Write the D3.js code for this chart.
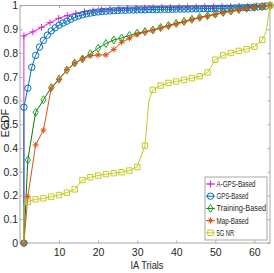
<!DOCTYPE html>
<html>
<head>
<meta charset="utf-8">
<script src="https://d3js.org/d3.v7.min.js"></script>
<style>
  body { margin: 0; background: #fff; }
  text { font-family: "Liberation Sans", Arial, sans-serif; fill: #262626; }
</style>
</head>
<body>
<script>
// ---- data ----
var xTicks = [10, 20, 30, 40, 50, 60];
var yTicks = [0, 0.1, 0.2, 0.3, 0.4, 0.5, 0.6, 0.7, 0.8, 0.9, 1];

var aGpsX = [1, 1, 3.3, 5.5, 7.7, 9.9, 12.1, 14.3, 16.5, 18.7, 20.9, 23.1, 25.3, 27.5, 29.7, 31.9,
             34.1, 36.3, 38.5, 40.7, 42.9, 45.1, 47.3, 49.5, 51.7, 53.9, 56.1, 58.3, 60.5, 62.7, 64];
var aGpsY = [0, 0.872, 0.889, 0.908, 0.928, 0.946, 0.958, 0.967, 0.974, 0.978, 0.982, 0.984, 0.986, 0.988, 0.989, 0.99,
             0.991, 0.992, 0.992, 0.993, 0.994, 0.994, 0.995, 0.995, 0.996, 0.996, 0.997, 0.997, 0.998, 0.999, 1.0];

var gpsX = [1, 1, 2, 3, 4, 5, 6, 7, 8, 9, 10, 11, 12, 13, 14, 15, 16, 17, 18, 19, 20, 21, 22, 23, 24, 25, 26, 27, 28, 29, 30,
            31, 32, 33, 34, 35, 36, 37, 38, 39, 40, 41, 42, 43, 44, 45, 46, 47, 48, 49, 50, 51, 52, 53, 54, 55, 56, 57, 58, 59, 60,
            61, 62, 63, 64];
var gpsY = [0, 0.572, 0.652, 0.74, 0.79, 0.825, 0.853, 0.875, 0.893, 0.906, 0.917, 0.926, 0.934, 0.942, 0.95, 0.956, 0.961,
            0.965, 0.968, 0.971, 0.973, 0.975, 0.976, 0.977, 0.978, 0.979, 0.98, 0.98, 0.981, 0.981, 0.982,
            0.982, 0.982, 0.983, 0.983, 0.983, 0.984, 0.984, 0.984, 0.984, 0.985, 0.985, 0.985, 0.985, 0.986, 0.986, 0.986, 0.987,
            0.987, 0.987, 0.988, 0.988, 0.988, 0.989, 0.989, 0.99, 0.99, 0.991, 0.991, 0.992, 0.993, 0.994, 0.995, 0.997, 1.0];

var evenX = [1, 2, 4, 6, 8, 10, 12, 14, 16, 18, 20, 22, 24, 26, 28, 30, 32, 34, 36, 38, 40, 42, 44, 46, 48, 50, 52, 54, 56, 58, 60, 62, 64];
var trainY = [0, 0.35, 0.55, 0.603, 0.655, 0.69, 0.728, 0.758, 0.775, 0.797, 0.82, 0.84, 0.855, 0.863, 0.874, 0.884,
              0.89, 0.897, 0.907, 0.916, 0.925, 0.933, 0.942, 0.95, 0.957, 0.964, 0.971, 0.977, 0.983, 0.988, 0.992, 0.996, 1.0];
var mapY = [0, 0.195, 0.413, 0.475, 0.652, 0.688, 0.73, 0.757, 0.775, 0.788, 0.792, 0.792, 0.815, 0.845, 0.862, 0.878,
            0.888, 0.895, 0.905, 0.913, 0.922, 0.93, 0.94, 0.948, 0.955, 0.962, 0.969, 0.975, 0.981, 0.987, 0.991, 0.995, 1.0];

var nrX = [1, 1, 2, 4, 6, 8, 10, 12, 14, 16, 18, 20, 22, 24, 26, 28, 30, 32, 33, 34, 36, 38, 40, 42, 44, 46, 48, 50,
           52, 54, 56, 58, 60, 62, 63, 64];
var nrY = [0, 0.165, 0.174, 0.184, 0.188, 0.195, 0.202, 0.212, 0.226, 0.265, 0.277, 0.284, 0.29, 0.294, 0.298, 0.305, 0.32,
           0.41, 0.6, 0.645, 0.663, 0.674, 0.68, 0.687, 0.694, 0.702, 0.718, 0.772, 0.79, 0.80, 0.809, 0.816, 0.827, 0.855, 0.89, 1.0];

var seriesNames = ["A-GPS-Based", "GPS-Based", "Training-Based", "Map-Based", "5G NR"];

// ---- layout ----
var svgW = 274, svgH = 273;
var plotL = 20, plotR = 270, plotT = 5.5, plotB = 243;

var svg = d3.select("body").append("svg")
    .attr("width", svgW)
    .attr("height", svgH);

var x = d3.scaleLinear().domain([0, 64]).range([plotL, plotR]);
var y = d3.scaleLinear().domain([0, 1]).range([plotB, plotT]);

// axes box + ticks
var boxColor = "#a8a8a8";
svg.append("rect")
    .attr("x", plotL).attr("y", plotT)
    .attr("width", plotR - plotL).attr("height", plotB - plotT)
    .style("fill", "none").style("stroke", boxColor).style("stroke-width", 1);

var xAxis = d3.axisBottom(x).tickValues(xTicks).tickSize(-2.5).tickPadding(6).tickFormat(d3.format("d"));
var gx = svg.append("g").attr("transform", "translate(0," + plotB + ")").call(xAxis);
var xTop = d3.axisTop(x).tickValues(xTicks).tickSize(-2.5).tickFormat("");
var gxt = svg.append("g").attr("transform", "translate(0," + plotT + ")").call(xTop);

var yAxis = d3.axisLeft(y).tickValues(yTicks).tickSize(-2.5).tickPadding(2)
    .tickFormat(function(d) { return d === 0 ? "0" : d === 1 ? "1" : d3.format(".1f")(d); });
var gy = svg.append("g").attr("transform", "translate(" + plotL + ",0)").call(yAxis);
var yRight = d3.axisRight(y).tickValues(yTicks).tickSize(-2.5).tickFormat("");
var gyr = svg.append("g").attr("transform", "translate(" + plotR + ",0)").call(yRight);

[gx, gxt, gy, gyr].forEach(function(g) {
  g.select(".domain").remove();
  g.selectAll(".tick line").style("stroke", boxColor);
  g.selectAll(".tick text").style("font-size", "10.5px").style("font-family", "Liberation Sans, Arial, sans-serif").style("fill", "#262626");
});

svg.append("text")
    .attr("x", 147).attr("y", 269)
    .attr("text-anchor", "middle")
    .attr("textLength", 33)
    .attr("lengthAdjust", "spacingAndGlyphs")
    .style("font-size", "11px")
    .text("IA Trials");

svg.append("text")
    .attr("transform", "translate(8.5,123) rotate(-90)")
    .attr("text-anchor", "middle")
    .style("font-size", "10.5px")
    .text("ECDF");

// ---- marker shapes ----
var markerPath = {
  plus: function(s) { return "M" + (-s) + ",0H" + s + "M0," + (-s) + "V" + s; },
  circle: function(s) { return "M" + s + ",0A" + s + "," + s + " 0 1,1 " + (-s) + ",0A" + s + "," + s + " 0 1,1 " + s + ",0Z"; },
  diamond: function(s) { return "M0," + (-s * 1.25) + "L" + (s * 0.8) + ",0L0," + (s * 1.25) + "L" + (-s * 0.8) + ",0Z"; },
  star: function(s) { var d = s * 0.7; return "M" + (-s) + ",0H" + s + "M0," + (-s) + "V" + s +
                      "M" + (-d) + "," + (-d) + "L" + d + "," + d + "M" + (-d) + "," + d + "L" + d + "," + (-d); },
  square: function(s) { return "M" + (-s) + "," + (-s) + "H" + s + "V" + s + "H" + (-s) + "Z"; }
};

var series = [
  { name: seriesNames[0], xs: aGpsX, ys: aGpsY, color: "#dd22dd", lineColor: "#dd22dd", shape: "plus", size: 3.3, every: function() { return true; } },
  { name: seriesNames[1], xs: gpsX, ys: gpsY, color: "#0072BD", lineColor: "#0072BD", shape: "circle", size: 3.2, every: function() { return true; } },
  { name: seriesNames[2], xs: evenX, ys: trainY, color: "#22a022", lineColor: "#007f00", shape: "diamond", size: 3.2, every: function() { return true; } },
  { name: seriesNames[3], xs: evenX, ys: mapY, color: "#D95319", lineColor: "#D95319", shape: "star", size: 3.0, every: function() { return true; } },
  { name: seriesNames[4], xs: nrX, ys: nrY, color: "#c9c923", lineColor: "#c9c923", shape: "square", size: 2.7, every: function(d) { return d[0] % 2 === 0; } }
];

var line = d3.line().x(function(d) { return x(d[0]); }).y(function(d) { return y(d[1]); });

series.forEach(function(s) {
  var pts = s.xs.map(function(v, i) { return [v, s.ys[i]]; });
  var g = svg.append("g");
  g.append("path")
      .attr("d", line(pts))
      .style("fill", "none")
      .style("stroke", s.lineColor)
      .style("stroke-width", 1);
  g.selectAll("path.mk")
      .data(pts.filter(s.every))
      .enter().append("path")
      .attr("class", "mk")
      .attr("transform", function(d) { return "translate(" + x(d[0]) + "," + y(d[1]) + ")"; })
      .attr("d", markerPath[s.shape](s.size))
      .style("fill", "none")
      .style("stroke", s.color)
      .style("stroke-width", 1);
});

// ---- legend ----
var lg = svg.append("g");
lg.append("rect")
    .attr("x", 205).attr("y", 177).attr("width", 62).attr("height", 63)
    .style("fill", "#fff").style("stroke", boxColor).style("stroke-width", 1);

series.forEach(function(s, i) {
  var cy = 184 + i * 12.2;
  lg.append("line")
      .attr("x1", 206).attr("x2", 215).attr("y1", cy).attr("y2", cy)
      .style("stroke", s.lineColor).style("stroke-width", 1);
  lg.append("path")
      .attr("transform", "translate(210.5," + cy + ")")
      .attr("d", markerPath[s.shape](s.size))
      .style("fill", "none").style("stroke", s.color).style("stroke-width", 1);
  lg.append("text")
      .attr("x", 216.5).attr("y", cy + 3)
      .attr("textLength", s.name.length * 3.55)
      .attr("lengthAdjust", "spacingAndGlyphs")
      .style("font-size", "8.5px")
      .text(s.name);
});
</script>
</body>
</html>
